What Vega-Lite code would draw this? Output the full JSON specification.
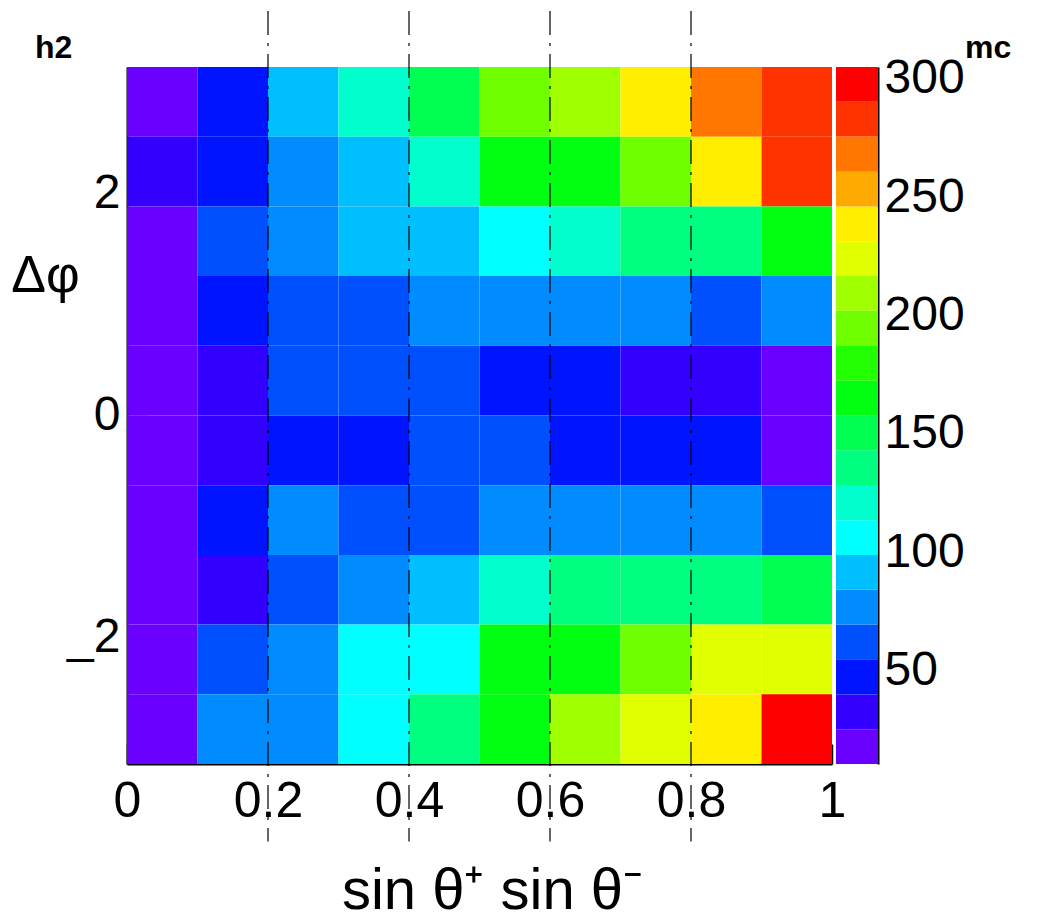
{
  "$schema": "https://vega.github.io/schema/vega-lite/v6.json",
  "background": "white",
  "padding": {"left": 10, "top": 10, "right": 0, "bottom": 0},
  "config": {
    "font": "Liberation Sans",
    "view": {"stroke": null},
    "axis": {"grid": false, "labelColor": "black", "titleColor": "black", "domainColor": "black", "tickColor": "black"}
  },
  "datasets": {
    "cells": [
      {"x0": 0.0, "x1": 0.1, "y0": 2.5133, "y1": 3.1416, "n": 22},
      {"x0": 0.1, "x1": 0.2, "y0": 2.5133, "y1": 3.1416, "n": 45},
      {"x0": 0.2, "x1": 0.3, "y0": 2.5133, "y1": 3.1416, "n": 90},
      {"x0": 0.3, "x1": 0.4, "y0": 2.5133, "y1": 3.1416, "n": 120},
      {"x0": 0.4, "x1": 0.5, "y0": 2.5133, "y1": 3.1416, "n": 149},
      {"x0": 0.5, "x1": 0.6, "y0": 2.5133, "y1": 3.1416, "n": 196},
      {"x0": 0.6, "x1": 0.7, "y0": 2.5133, "y1": 3.1416, "n": 210},
      {"x0": 0.7, "x1": 0.8, "y0": 2.5133, "y1": 3.1416, "n": 240},
      {"x0": 0.8, "x1": 0.9, "y0": 2.5133, "y1": 3.1416, "n": 266},
      {"x0": 0.9, "x1": 1.0, "y0": 2.5133, "y1": 3.1416, "n": 284},

      {"x0": 0.0, "x1": 0.1, "y0": 1.885, "y1": 2.5133, "n": 31},
      {"x0": 0.1, "x1": 0.2, "y0": 1.885, "y1": 2.5133, "n": 50},
      {"x0": 0.2, "x1": 0.3, "y0": 1.885, "y1": 2.5133, "n": 79},
      {"x0": 0.3, "x1": 0.4, "y0": 1.885, "y1": 2.5133, "n": 94},
      {"x0": 0.4, "x1": 0.5, "y0": 1.885, "y1": 2.5133, "n": 123},
      {"x0": 0.5, "x1": 0.6, "y0": 1.885, "y1": 2.5133, "n": 163},
      {"x0": 0.6, "x1": 0.7, "y0": 1.885, "y1": 2.5133, "n": 168},
      {"x0": 0.7, "x1": 0.8, "y0": 1.885, "y1": 2.5133, "n": 193},
      {"x0": 0.8, "x1": 0.9, "y0": 1.885, "y1": 2.5133, "n": 236},
      {"x0": 0.9, "x1": 1.0, "y0": 1.885, "y1": 2.5133, "n": 281},

      {"x0": 0.0, "x1": 0.1, "y0": 1.2566, "y1": 1.885, "n": 19},
      {"x0": 0.1, "x1": 0.2, "y0": 1.2566, "y1": 1.885, "n": 61},
      {"x0": 0.2, "x1": 0.3, "y0": 1.2566, "y1": 1.885, "n": 76},
      {"x0": 0.3, "x1": 0.4, "y0": 1.2566, "y1": 1.885, "n": 90},
      {"x0": 0.4, "x1": 0.5, "y0": 1.2566, "y1": 1.885, "n": 95},
      {"x0": 0.5, "x1": 0.6, "y0": 1.2566, "y1": 1.885, "n": 108},
      {"x0": 0.6, "x1": 0.7, "y0": 1.2566, "y1": 1.885, "n": 119},
      {"x0": 0.7, "x1": 0.8, "y0": 1.2566, "y1": 1.885, "n": 134},
      {"x0": 0.8, "x1": 0.9, "y0": 1.2566, "y1": 1.885, "n": 138},
      {"x0": 0.9, "x1": 1.0, "y0": 1.2566, "y1": 1.885, "n": 166},

      {"x0": 0.0, "x1": 0.1, "y0": 0.6283, "y1": 1.2566, "n": 16},
      {"x0": 0.1, "x1": 0.2, "y0": 0.6283, "y1": 1.2566, "n": 49},
      {"x0": 0.2, "x1": 0.3, "y0": 0.6283, "y1": 1.2566, "n": 63},
      {"x0": 0.3, "x1": 0.4, "y0": 0.6283, "y1": 1.2566, "n": 65},
      {"x0": 0.4, "x1": 0.5, "y0": 0.6283, "y1": 1.2566, "n": 78},
      {"x0": 0.5, "x1": 0.6, "y0": 0.6283, "y1": 1.2566, "n": 80},
      {"x0": 0.6, "x1": 0.7, "y0": 0.6283, "y1": 1.2566, "n": 77},
      {"x0": 0.7, "x1": 0.8, "y0": 0.6283, "y1": 1.2566, "n": 79},
      {"x0": 0.8, "x1": 0.9, "y0": 0.6283, "y1": 1.2566, "n": 60},
      {"x0": 0.9, "x1": 1.0, "y0": 0.6283, "y1": 1.2566, "n": 76},

      {"x0": 0.0, "x1": 0.1, "y0": 0.0, "y1": 0.6283, "n": 14},
      {"x0": 0.1, "x1": 0.2, "y0": 0.0, "y1": 0.6283, "n": 33},
      {"x0": 0.2, "x1": 0.3, "y0": 0.0, "y1": 0.6283, "n": 60},
      {"x0": 0.3, "x1": 0.4, "y0": 0.0, "y1": 0.6283, "n": 64},
      {"x0": 0.4, "x1": 0.5, "y0": 0.0, "y1": 0.6283, "n": 61},
      {"x0": 0.5, "x1": 0.6, "y0": 0.0, "y1": 0.6283, "n": 46},
      {"x0": 0.6, "x1": 0.7, "y0": 0.0, "y1": 0.6283, "n": 44},
      {"x0": 0.7, "x1": 0.8, "y0": 0.0, "y1": 0.6283, "n": 36},
      {"x0": 0.8, "x1": 0.9, "y0": 0.0, "y1": 0.6283, "n": 34},
      {"x0": 0.9, "x1": 1.0, "y0": 0.0, "y1": 0.6283, "n": 20},

      {"x0": 0.0, "x1": 0.1, "y0": -0.6283, "y1": 0.0, "n": 12},
      {"x0": 0.1, "x1": 0.2, "y0": -0.6283, "y1": 0.0, "n": 35},
      {"x0": 0.2, "x1": 0.3, "y0": -0.6283, "y1": 0.0, "n": 48},
      {"x0": 0.3, "x1": 0.4, "y0": -0.6283, "y1": 0.0, "n": 45},
      {"x0": 0.4, "x1": 0.5, "y0": -0.6283, "y1": 0.0, "n": 58},
      {"x0": 0.5, "x1": 0.6, "y0": -0.6283, "y1": 0.0, "n": 57},
      {"x0": 0.6, "x1": 0.7, "y0": -0.6283, "y1": 0.0, "n": 47},
      {"x0": 0.7, "x1": 0.8, "y0": -0.6283, "y1": 0.0, "n": 51},
      {"x0": 0.8, "x1": 0.9, "y0": -0.6283, "y1": 0.0, "n": 49},
      {"x0": 0.9, "x1": 1.0, "y0": -0.6283, "y1": 0.0, "n": 23},

      {"x0": 0.0, "x1": 0.1, "y0": -1.2566, "y1": -0.6283, "n": 15},
      {"x0": 0.1, "x1": 0.2, "y0": -1.2566, "y1": -0.6283, "n": 46},
      {"x0": 0.2, "x1": 0.3, "y0": -1.2566, "y1": -0.6283, "n": 75},
      {"x0": 0.3, "x1": 0.4, "y0": -1.2566, "y1": -0.6283, "n": 62},
      {"x0": 0.4, "x1": 0.5, "y0": -1.2566, "y1": -0.6283, "n": 64},
      {"x0": 0.5, "x1": 0.6, "y0": -1.2566, "y1": -0.6283, "n": 80},
      {"x0": 0.6, "x1": 0.7, "y0": -1.2566, "y1": -0.6283, "n": 81},
      {"x0": 0.7, "x1": 0.8, "y0": -1.2566, "y1": -0.6283, "n": 78},
      {"x0": 0.8, "x1": 0.9, "y0": -1.2566, "y1": -0.6283, "n": 76},
      {"x0": 0.9, "x1": 1.0, "y0": -1.2566, "y1": -0.6283, "n": 60},

      {"x0": 0.0, "x1": 0.1, "y0": -1.885, "y1": -1.2566, "n": 18},
      {"x0": 0.1, "x1": 0.2, "y0": -1.885, "y1": -1.2566, "n": 37},
      {"x0": 0.2, "x1": 0.3, "y0": -1.885, "y1": -1.2566, "n": 63},
      {"x0": 0.3, "x1": 0.4, "y0": -1.885, "y1": -1.2566, "n": 79},
      {"x0": 0.4, "x1": 0.5, "y0": -1.885, "y1": -1.2566, "n": 93},
      {"x0": 0.5, "x1": 0.6, "y0": -1.885, "y1": -1.2566, "n": 121},
      {"x0": 0.6, "x1": 0.7, "y0": -1.885, "y1": -1.2566, "n": 136},
      {"x0": 0.7, "x1": 0.8, "y0": -1.885, "y1": -1.2566, "n": 134},
      {"x0": 0.8, "x1": 0.9, "y0": -1.885, "y1": -1.2566, "n": 139},
      {"x0": 0.9, "x1": 1.0, "y0": -1.885, "y1": -1.2566, "n": 149},

      {"x0": 0.0, "x1": 0.1, "y0": -2.5133, "y1": -1.885, "n": 21},
      {"x0": 0.1, "x1": 0.2, "y0": -2.5133, "y1": -1.885, "n": 64},
      {"x0": 0.2, "x1": 0.3, "y0": -2.5133, "y1": -1.885, "n": 81},
      {"x0": 0.3, "x1": 0.4, "y0": -2.5133, "y1": -1.885, "n": 106},
      {"x0": 0.4, "x1": 0.5, "y0": -2.5133, "y1": -1.885, "n": 109},
      {"x0": 0.5, "x1": 0.6, "y0": -2.5133, "y1": -1.885, "n": 162},
      {"x0": 0.6, "x1": 0.7, "y0": -2.5133, "y1": -1.885, "n": 167},
      {"x0": 0.7, "x1": 0.8, "y0": -2.5133, "y1": -1.885, "n": 196},
      {"x0": 0.8, "x1": 0.9, "y0": -2.5133, "y1": -1.885, "n": 222},
      {"x0": 0.9, "x1": 1.0, "y0": -2.5133, "y1": -1.885, "n": 226},

      {"x0": 0.0, "x1": 0.1, "y0": -3.1416, "y1": -2.5133, "n": 10.6},
      {"x0": 0.1, "x1": 0.2, "y0": -3.1416, "y1": -2.5133, "n": 82},
      {"x0": 0.2, "x1": 0.3, "y0": -3.1416, "y1": -2.5133, "n": 84},
      {"x0": 0.3, "x1": 0.4, "y0": -3.1416, "y1": -2.5133, "n": 110},
      {"x0": 0.4, "x1": 0.5, "y0": -3.1416, "y1": -2.5133, "n": 137},
      {"x0": 0.5, "x1": 0.6, "y0": -3.1416, "y1": -2.5133, "n": 166},
      {"x0": 0.6, "x1": 0.7, "y0": -3.1416, "y1": -2.5133, "n": 208},
      {"x0": 0.7, "x1": 0.8, "y0": -3.1416, "y1": -2.5133, "n": 225},
      {"x0": 0.8, "x1": 0.9, "y0": -3.1416, "y1": -2.5133, "n": 241},
      {"x0": 0.9, "x1": 1.0, "y0": -3.1416, "y1": -2.5133, "n": 305}
    ],
    "cuts": [
      {"cut": 0.2}, {"cut": 0.4}, {"cut": 0.6}, {"cut": 0.8}
    ],
    "bands": [
      {"lo": 10.6, "hi": 25.3}, {"lo": 25.3, "hi": 40.0}, {"lo": 40.0, "hi": 54.8},
      {"lo": 54.8, "hi": 69.5}, {"lo": 69.5, "hi": 84.2}, {"lo": 84.2, "hi": 98.9},
      {"lo": 98.9, "hi": 113.6}, {"lo": 113.6, "hi": 128.4}, {"lo": 128.4, "hi": 143.1},
      {"lo": 143.1, "hi": 157.8}, {"lo": 157.8, "hi": 172.5}, {"lo": 172.5, "hi": 187.2},
      {"lo": 187.2, "hi": 202.0}, {"lo": 202.0, "hi": 216.7}, {"lo": 216.7, "hi": 231.4},
      {"lo": 231.4, "hi": 246.1}, {"lo": 246.1, "hi": 260.8}, {"lo": 260.8, "hi": 275.6},
      {"lo": 275.6, "hi": 290.3}, {"lo": 290.3, "hi": 305.0}
    ]
  },
  "bounds": "flush",
  "spacing": 4,
  "hconcat": [
    {
      "width": 705,
      "height": 697,
      "title": {"text": "h2", "anchor": "start", "frame": "group", "dx": -92, "dy": 80, "offset": 0, "baseline": "alphabetic", "fontSize": 32, "fontWeight": "bold", "color": "black"},
      "layer": [
        {
          "data": {"name": "cells"},
          "mark": {"type": "rect", "stroke": null},
          "encoding": {
            "x": {"field": "x0", "type": "quantitative",
              "scale": {"domain": [0, 1], "nice": false, "zero": false},
              "axis": {"orient": "bottom", "values": [0, 0.2, 0.4, 0.6, 0.8, 1], "format": "~g",
                "labelFlush": false, "labelFontSize": 50, "labelPadding": 32,
                "domainWidth": 2, "tickSize": -20, "tickWidth": 1.5,
                "title": "sin θ⁺ sin θ⁻", "titleFontSize": 58, "titleFontWeight": "normal",
                "titleAngle": 0, "titleBaseline": "alphabetic", "titleAlign": "center", "titleX": 365, "titleY": 144}},
            "x2": {"field": "x1"},
            "y": {"field": "y0", "type": "quantitative",
              "scale": {"domain": [-3.1416, 3.1416], "nice": false, "zero": false},
              "axis": {"orient": "left", "values": [-2, 0, 2],
                "labelExpr": "datum.value < 0 ? '_' + abs(datum.value) : '' + datum.value",
                "labelFontSize": 48, "labelPadding": 27, "labelBaseline": "middle",
                "domainWidth": 2, "tickSize": -20, "tickWidth": 1.5,
                "title": "Δφ", "titleFontSize": 52, "titleFontWeight": "normal",
                "titleAngle": 0, "titleBaseline": "alphabetic", "titleAlign": "center", "titleX": -82, "titleY": 224}},
            "y2": {"field": "y1"},
            "color": {"field": "n", "type": "quantitative", "legend": null,
              "scale": {"type": "quantize", "domain": [10.6, 305],
                "range": ["#6a00ff", "#3300ff", "#0014ff", "#0050ff", "#008cff", "#00bfff", "#00ffff", "#00ffcc", "#00ff80", "#00ff50",
                          "#00ff10", "#22ff00", "#70ff00", "#a0ff00", "#e0ff00", "#ffee00", "#ffaa00", "#ff7700", "#ff3300", "#ff0000"]}}
          }
        },
        {
          "data": {"name": "cuts"},
          "mark": {"type": "rule", "color": "black", "strokeWidth": 1.2, "strokeDash": [24, 8, 3, 8], "clip": false},
          "encoding": {
            "x": {"field": "cut", "type": "quantitative"},
            "y": {"datum": 3.646},
            "y2": {"datum": -3.84}
          }
        }
      ]
    },
    {
      "width": 42,
      "height": 697,
      "title": {"text": "mc", "anchor": "start", "frame": "group", "dx": 129, "dy": 46, "offset": 11, "baseline": "alphabetic", "fontSize": 32, "fontWeight": "bold", "color": "black"},
      "data": {"name": "bands"},
      "transform": [{"calculate": "(datum.lo + datum.hi) / 2", "as": "mid"}],
      "mark": {"type": "rect", "stroke": null},
      "encoding": {
        "y": {"field": "lo", "type": "quantitative",
          "scale": {"domain": [10.6, 305], "nice": false, "zero": false},
          "axis": {"orient": "right", "values": [50, 100, 150, 200, 250, 300], "title": null,
            "labelFontSize": 48, "labelPadding": 26, "labelBaseline": "middle",
            "domainWidth": 2, "tickSize": -20, "tickWidth": 1.5}},
        "y2": {"field": "hi"},
        "color": {"field": "mid", "type": "quantitative", "legend": null,
          "scale": {"type": "quantize", "domain": [10.6, 305],
            "range": ["#6a00ff", "#3300ff", "#0014ff", "#0050ff", "#008cff", "#00bfff", "#00ffff", "#00ffcc", "#00ff80", "#00ff50",
                      "#00ff10", "#22ff00", "#70ff00", "#a0ff00", "#e0ff00", "#ffee00", "#ffaa00", "#ff7700", "#ff3300", "#ff0000"]}}
      }
    }
  ]
}
